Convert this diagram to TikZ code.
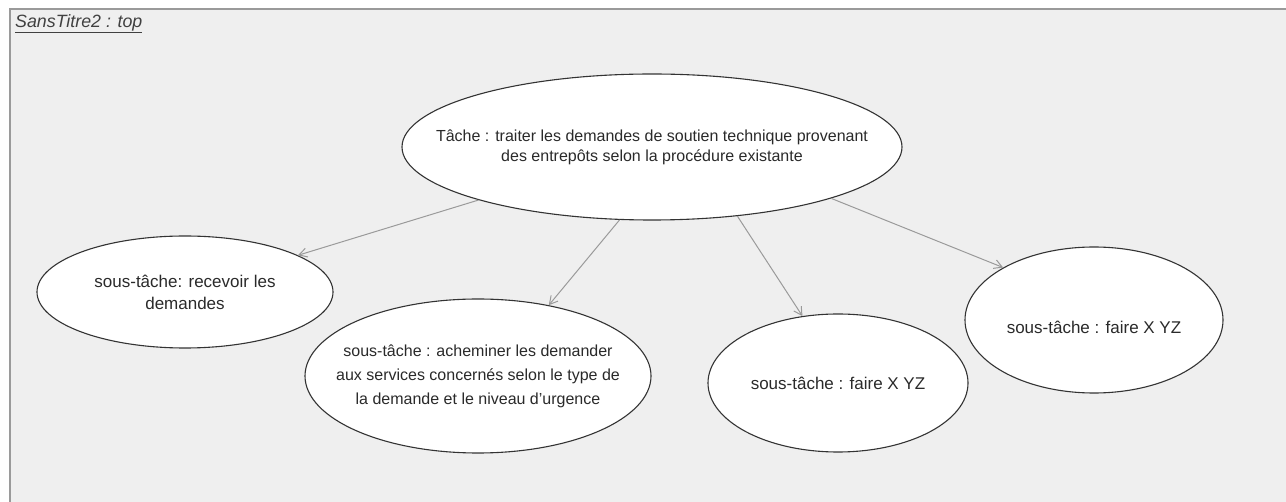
\documentclass[tikz,border=0pt]{standalone}
\usepackage{fontspec}
\setmainfont{Liberation Sans}
\usetikzlibrary{shapes.geometric,arrows.meta}
\definecolor{bgc}{HTML}{EFEFEF}
\definecolor{framec}{HTML}{9A9A9A}
\definecolor{arrc}{HTML}{9A9A9A}
\definecolor{txtc}{HTML}{2A2A2A}
\tikzset{
  task/.style={ellipse, draw=black!80, line width=1.1pt, fill=white, inner sep=0pt},
  tasktext/.style={align=center, text=txtc, inner sep=0pt, font=\fontsize{17}{22}\selectfont},
  link/.style={draw=arrc, line width=1pt, -{Straight Barb[length=8pt,width=9pt]}}
}
\begin{document}
\begin{tikzpicture}[x=1pt,y=-1pt]
\useasboundingbox (0,0) rectangle (1286,502);
\fill[white] (0,0) rectangle (1286,502);
\fill[bgc] (10,9) rectangle (1286,502);
\draw[framec, line width=2pt] (10,502) -- (10,9) -- (1286,9);
\node[anchor=west, text=black!75, inner sep=0pt, font=\fontsize{17.8}{19}\selectfont\itshape] (title) at (15,24) {\underline{SansTitre2 : top}};

\node[task, minimum width=500pt, minimum height=146pt,
  label={[tasktext, font=\fontsize{16}{20}\selectfont]center:Tâche : traiter les demandes de soutien technique provenant\\des entrepôts selon la procédure existante}] (main) at (652,147) {};
\node[task, minimum width=296pt, minimum height=112pt,
  label={[tasktext]center:sous-tâche: recevoir les\\demandes}] (s1) at (185,292) {};
\node[task, minimum width=346pt, minimum height=154pt,
  label={[tasktext, font=\fontsize{16}{24}\selectfont]center:sous-tâche : acheminer les demander\\aux services concernés selon le type de\\la demande et le niveau d'urgence}] (s2) at (478,376) {};
\node[task, minimum width=260pt, minimum height=138pt,
  label={[tasktext]center:sous-tâche : faire X YZ}] (s3) at (838,383) {};
\node[task, minimum width=258pt, minimum height=146pt,
  label={[tasktext, yshift=-7pt]center:sous-tâche : faire X YZ}] (s4) at (1094,320) {};

\draw[link] (main.197.8) -- (s1.18);
\draw[link] (main.246) -- (s2.45);
\draw[link] (main.321) -- (s3.118);
\draw[link] (main.344) -- (s4.150);
\end{tikzpicture}
\end{document}
